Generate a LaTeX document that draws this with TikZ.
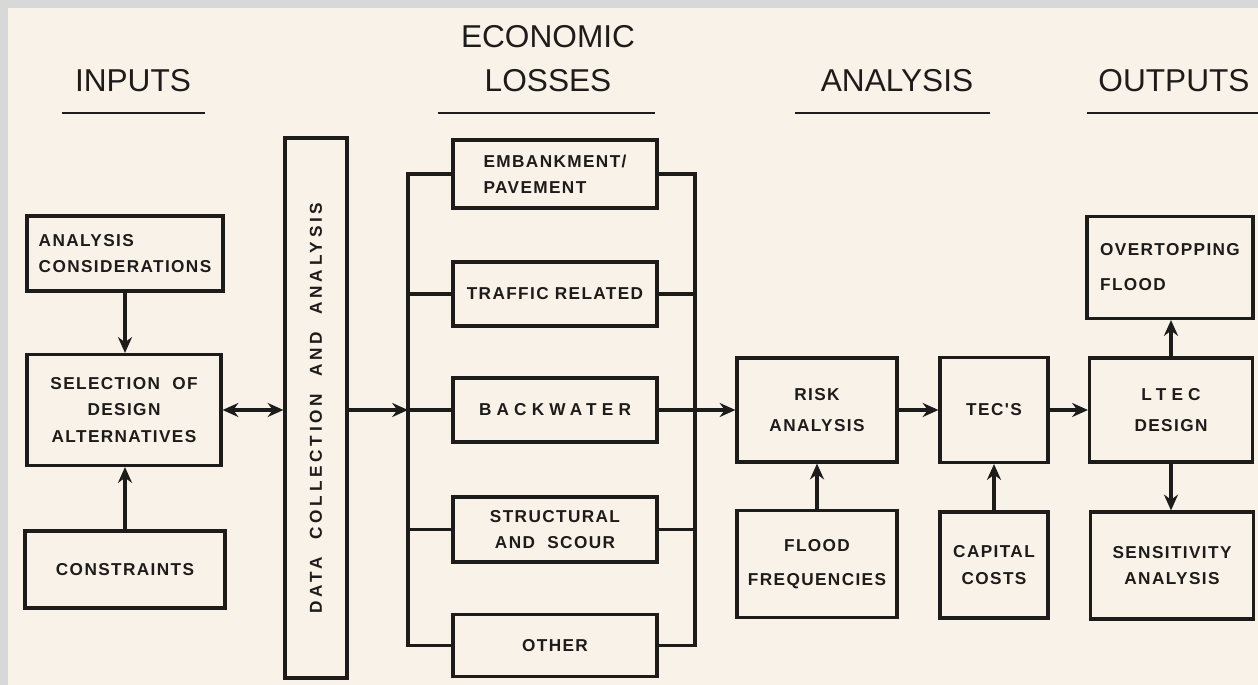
\documentclass[tikz,border=0pt]{standalone}
\usepackage{fontspec}
\setmainfont{Liberation Sans}
\newfontfamily\boxfont[LetterSpace=8]{Liberation Sans}
\usetikzlibrary{arrows.meta,positioning}
\definecolor{paper}{RGB}{248,242,233}
\definecolor{marble}{RGB}{216,216,216}
\definecolor{ink}{RGB}{30,28,26}

\begin{document}
\begin{tikzpicture}[
    x=0.02cm, y=-0.02cm,
    box/.style={rectangle, draw=ink, line width=1.8pt, inner sep=0pt, text=ink, align=center,
        font=\boxfont\bfseries\fontsize{9.8}{15}\selectfont},
    wh/.style 2 args={minimum width=#1*0.02cm, minimum height=#2*0.02cm},
    head/.style={text=ink, inner sep=0pt, font=\fontsize{18}{25}\selectfont},
    rule/.style={draw=ink, line width=1.4pt},
    line/.style={draw=ink, line width=1.8pt},
    arrow/.style={line, -{Stealth[length=9pt,width=8pt]}},
    twoway/.style={line, {Stealth[length=9pt,width=8pt]}-{Stealth[length=9pt,width=8pt]}}
]
    % paper
    \useasboundingbox (0,0) rectangle (1258,685);
    \fill[marble] (0,0) rectangle (1258,685);
    \fill[paper] (8,8) rectangle (1258,685);

    % headings
    \node[head] (inputs) at (133,81) {INPUTS};
    \node[head, align=center] (losses) at (548,59) {ECONOMIC\\LOSSES};
    \node[head] (analysis) at (897,81) {ANALYSIS};
    \node[head] (outputs) at (1174,81) {OUTPUTS};
    \draw[rule] (62,113) -- (205,113);
    \draw[rule] (438,113) -- (655,113);
    \draw[rule] (795,113) -- (990,113);
    \draw[rule] (1087,113) -- (1258,113);

    % inputs
    \node[box, wh={196}{75}, align=left] (cons) at (125,253.5) {ANALYSIS\\CONSIDERATIONS};
    \node[box, wh={194}{111}] (sel) at (124,410) {SELECTION\ \ OF\\DESIGN\\ALTERNATIVES};
    \node[box, wh={200}{77}] (constr) at (125,569.5) {CONSTRAINTS};
    % rotated: north is the left side, south the right side
    \node[box, rotate=90, wh={540}{62}] (data) at (316,408)
        {\addfontfeature{LetterSpace=22}DATA\ \ COLLECTION\ \ AND\ \ ANALYSIS};

    % economic losses
    \node[box, wh={204}{68}, align=left] (emb) at (555,174) {EMBANKMENT/\\PAVEMENT};
    \node[box, wh={204}{64}] (traf) at (555,294) {TRAFFIC RELATED};
    \node[box, wh={204}{64}] (back) at (555,410) {\addfontfeature{LetterSpace=30}BACKWATER};
    \node[box, wh={204}{65}] (struc) at (555,529.5) {STRUCTURAL\\AND\ \ SCOUR};
    \node[box, wh={204}{62}] (other) at (555,645.5) {OTHER};
    \coordinate (busL) at (408,410);
    \coordinate (busR) at (695,410);

    % analysis
    \node[box, wh={160}{104}, font=\boxfont\bfseries\fontsize{9.8}{18}\selectfont] (risk) at (817,410) {RISK\\ANALYSIS};
    \node[box, wh={160}{107}, font=\boxfont\bfseries\fontsize{9.8}{19}\selectfont] (flood) at (817,564) {FLOOD\\FREQUENCIES};
    \node[box, wh={108}{105}] (tec) at (994,410) {TEC'S};
    \node[box, wh={108}{106}] (capital) at (994,565) {CAPITAL\\COSTS};

    % outputs
    \node[box, wh={163}{104}, font=\boxfont\bfseries\fontsize{9.8}{18}\selectfont] (ltec) at (1171,410) {{\addfontfeature{LetterSpace=30}LTEC}\\DESIGN};
    \node[box, wh={166}{102}, align=left, font=\boxfont\bfseries\fontsize{9.8}{20}\selectfont] (overtop) at (1170,267.5) {OVERTOPPING\\FLOOD};
    \node[box, wh={163}{107}] (sens) at (1172,565.5) {SENSITIVITY\\ANALYSIS};

    % connectors
    \draw[arrow] (cons.south) -- (cons.south |- sel.north);
    \draw[arrow] (constr.north) -- (constr.north |- sel.south);
    \draw[twoway] (sel.east) -- (sel.east -| data.north);
    \draw[arrow] (data.south |- busL) -- (busL);
    \draw[line] (emb.west) -| (busL) |- (other.west);
    \draw[line] (emb.east) -| (busR) |- (other.east);
    \foreach \b in {traf,back,struc}{
        \draw[line] (\b.west) -- (\b.west -| busL);
        \draw[line] (\b.east) -- (\b.east -| busR);
    }
    \draw[arrow] (busR) -- (risk.west);
    \draw[arrow] (risk) -- (tec);
    \draw[arrow] (tec) -- (ltec);
    \draw[arrow] (flood) -- (risk);
    \draw[arrow] (capital) -- (tec);
    \draw[arrow] (ltec.north) -- (ltec.north |- overtop.south);
    \draw[arrow] (ltec.south) -- (ltec.south |- sens.north);
\end{tikzpicture}
\end{document}
